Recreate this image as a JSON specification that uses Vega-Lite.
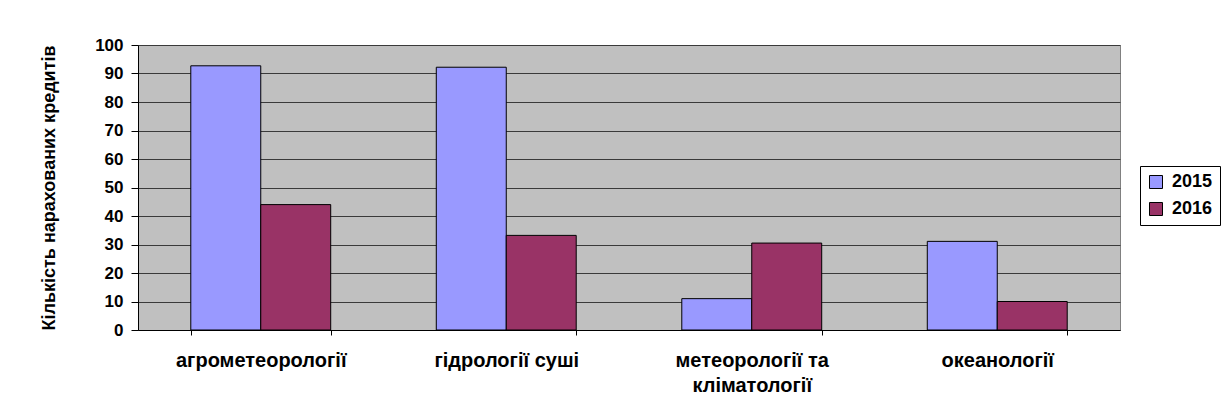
{
  "$schema": "https://vega.github.io/schema/vega-lite/v6.json",
  "width": 982,
  "height": 285,
  "autosize": {"type": "none"},
  "padding": {"left": 138, "top": 45, "right": 105, "bottom": 87},
  "background": "white",
  "data": {
    "values": [
      {"category": "агрометеорології", "year": "2015", "value": 92.7},
      {"category": "агрометеорології", "year": "2016", "value": 44},
      {"category": "гідрології суші", "year": "2015", "value": 92.2},
      {"category": "гідрології суші", "year": "2016", "value": 33.2},
      {"category": "метеорології та кліматології", "year": "2015", "value": 11},
      {"category": "метеорології та кліматології", "year": "2016", "value": 30.5},
      {"category": "океанології", "year": "2015", "value": 31.1},
      {"category": "океанології", "year": "2016", "value": 10}
    ]
  },
  "mark": {"type": "bar", "stroke": "#000000", "strokeWidth": 1},
  "encoding": {
    "x": {
      "field": "category",
      "type": "nominal",
      "sort": null,
      "scale": {"paddingInner": 0.43, "paddingOuter": 0.215},
      "axis": {
        "title": null,
        "labelAngle": 0,
        "labelFont": "Liberation Sans",
        "labelFontWeight": "bold",
        "labelFontSize": 20,
        "labelColor": "#000000",
        "labelPadding": 15,
        "labelLineHeight": 25,
        "labelExpr": "datum.label == 'метеорології та кліматології' ? ['метеорології та', 'кліматології'] : datum.label",
        "tickBand": "extent",
        "tickSize": 5,
        "tickColor": "#000000",
        "domainColor": "#000000",
        "grid": false
      }
    },
    "xOffset": {"field": "year", "type": "nominal", "sort": ["2015", "2016"]},
    "y": {
      "field": "value",
      "type": "quantitative",
      "scale": {"domain": [0, 100], "nice": false},
      "axis": {
        "title": "Кількість нарахованих кредитів",
        "titleFont": "Liberation Sans",
        "titleFontWeight": "bold",
        "titleFontSize": 18,
        "titleColor": "#000000",
        "titlePadding": 36,
        "values": [0, 10, 20, 30, 40, 50, 60, 70, 80, 90, 100],
        "labelFont": "Liberation Sans",
        "labelFontWeight": "bold",
        "labelFontSize": 17,
        "labelColor": "#000000",
        "labelPadding": 8,
        "tickSize": 7,
        "tickColor": "#000000",
        "domainColor": "#000000",
        "grid": true,
        "gridColor": "#3a3a3a",
        "gridWidth": 1
      }
    },
    "color": {
      "field": "year",
      "type": "nominal",
      "scale": {"domain": ["2015", "2016"], "range": ["#9999FF", "#993366"]},
      "legend": {
        "title": null,
        "orient": "none",
        "legendX": 1002,
        "legendY": 121,
        "strokeColor": "#000000",
        "fillColor": "#ffffff",
        "padding": 7,
        "symbolType": "square",
        "symbolSize": 169,
        "symbolStrokeColor": "#000000",
        "symbolStrokeWidth": 1,
        "symbolOpacity": 1,
        "labelFont": "Liberation Sans",
        "labelFontWeight": "bold",
        "labelFontSize": 18,
        "labelColor": "#000000",
        "labelOffset": 7,
        "rowPadding": 9
      }
    }
  },
  "config": {
    "view": {"fill": "#C0C0C0", "stroke": "#808080", "strokeWidth": 1}
  }
}
